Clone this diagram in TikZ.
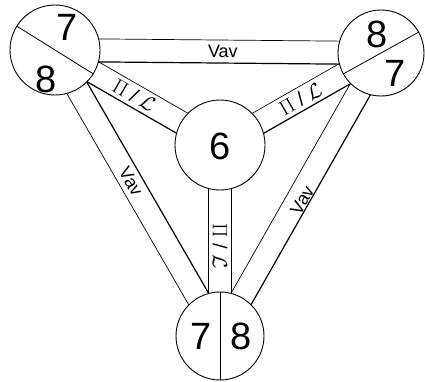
\documentclass[tikz,border=0pt]{standalone}
\usepackage{fontspec}
\setmainfont{Liberation Sans}
\usetikzlibrary{calc,backgrounds}

\tikzset{
  sephira/.style={circle, draw, line width=0.9pt, fill=white, inner sep=0pt},
  digit/.style={font=\fontsize{38}{38}\selectfont, inner sep=0pt},
  pathname/.style={font=\fontsize{18}{18}\selectfont, inner sep=0pt},
  pathsign/.style={font=\fontsize{20}{20}\selectfont, inner sep=0pt},
}

\begin{document}
\begin{tikzpicture}[x=1pt, y=-1pt]
  \useasboundingbox (0,0) rectangle (425,381);
  % Define the half width of a band
  \def\half{11.5}

  % Draw the circles
  \node[sephira, minimum size=90pt] (tl) at (55,50) {};
  \node[sephira, minimum size=86pt] (tr) at (381,53) {};
  \node[sephira, minimum size=90pt] (c) at (220,145) {};
  \node[sephira, minimum size=88pt] (bt) at (220,336) {};

  % Split the outer circles
  \draw[line width=0.8pt] (tl.148) -- (tl.-32);
  \draw[line width=0.8pt] (tr.209) -- (tr.29);
  \draw[line width=1pt] (bt.90) -- (bt.-90);

  % Draw the numbers
  \node[digit] (tl7) at (67,27) {7};
  \node[digit] (tl8) at (46,79) {8};
  \node[digit] (tr8) at (377,34) {8};
  \node[digit] (tr7) at (395,73) {7};
  \node[digit] (c6) at (220,146) {6};
  \node[digit] (bt7) at (201,336) {7};
  \node[digit] (bt8) at (241,336) {8};

  % Draw the bands behind the circles
  \begin{scope}[on background layer]
    \foreach \p/\q in {tl/tr, tl/c, c/tr, bt/c, bt/tl, bt/tr} {
      \draw[line width=0.7pt] ($(\p)!\half pt!90:(\q)$) -- ($(\q)!\half pt!-90:(\p)$);
      \draw[line width=1.2pt] ($(\p)!\half pt!-90:(\q)$) -- ($(\q)!\half pt!90:(\p)$);
    }
  \end{scope}

  % Label the bands
  \node[pathname] (vavtop) at ($(tl)!0.515!(tr)$) {Vav};
  \node[pathname, rotate=-60] (vavleft) at ($(tl)!0.46!(bt)$) {Vav};
  \node[pathname, rotate=60] (vavright) at ($(bt)!0.48!(tr)+(5,0)$) {Vav};
  \node[pathsign, rotate=-30] (signleft) at ($(tl)!0.48!(c)$) {$\Pi$ / $\mathcal{L}$};
  \node[pathsign, rotate=30] (signright) at ($(c)!0.5!(tr)$) {$\Pi$ / $\mathcal{L}$};
  \node[pathsign, rotate=-90] (signdown) at ($(c)!0.53!(bt)$) {$\Pi$ / $\mathcal{L}$};
\end{tikzpicture}
\end{document}
